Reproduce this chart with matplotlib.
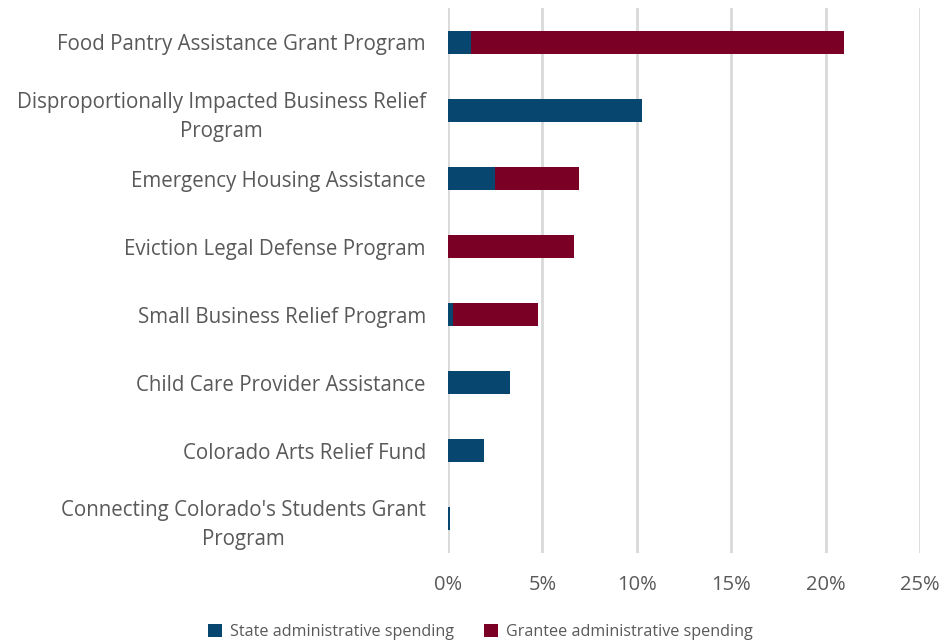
import numpy as np
import matplotlib.pyplot as plt

programs = [
    "Food Pantry Assistance Grant Program",
    "Disproportionally Impacted Business Relief\nProgram",
    "Emergency Housing Assistance",
    "Eviction Legal Defense Program",
    "Small Business Relief Program",
    "Child Care Provider Assistance",
    "Colorado Arts Relief Fund",
    "Connecting Colorado's Students Grant\nProgram",
]
state_pct = [1.2, 10.25, 2.47, 0.0, 0.28, 3.28, 1.93, 0.1]
grantee_pct = [19.78, 0.0, 4.49, 6.7, 4.48, 0.0, 0.0, 0.0]
xticks = [0, 5, 10, 15, 20, 25]

state_color = "#06466f"
grantee_color = "#7a0025"
text_color = "#595959"

plt.rcParams['font.family'] = ['Open Sans', 'DejaVu Sans']

fig = plt.figure(figsize=(9.42, 6.43), dpi=100)
ax = fig.add_axes([0.4756, 0.1407, 0.5010, 0.8461])

y = np.arange(len(programs))
ax.barh(y, state_pct, height=0.35, color=state_color, label="State administrative spending", zorder=3)
ax.barh(y, grantee_pct, left=state_pct, height=0.35, color=grantee_color,
        label="Grantee administrative spending", zorder=3)

ax.set_xlim(0, 25)
ax.set_ylim(len(programs) - 0.5, -0.5)
ax.set_xticks(xticks)
ax.set_xticklabels([f"{t}%" for t in xticks])
ax.set_yticks(y)
ax.set_yticklabels(programs, multialignment="center", linespacing=1.5)

ax.grid(axis="x", color="#d9d9d9", linewidth=2, zorder=0)
for s in ax.spines.values():
    s.set_visible(False)
ax.tick_params(axis="both", length=0, colors=text_color)
ax.tick_params(axis="y", pad=16, labelsize=14.8)
ax.tick_params(axis="x", pad=16, labelsize=14.5)

leg = fig.legend(loc="center", bbox_to_anchor=(0.51, 0.017), ncol=2, frameon=False,
                 fontsize=11.6, handlelength=0.85, handleheight=0.85, columnspacing=1.9,
                 handletextpad=0.5)
for t in leg.get_texts():
    t.set_color(text_color)

fig.savefig("out.png", dpi=100)
